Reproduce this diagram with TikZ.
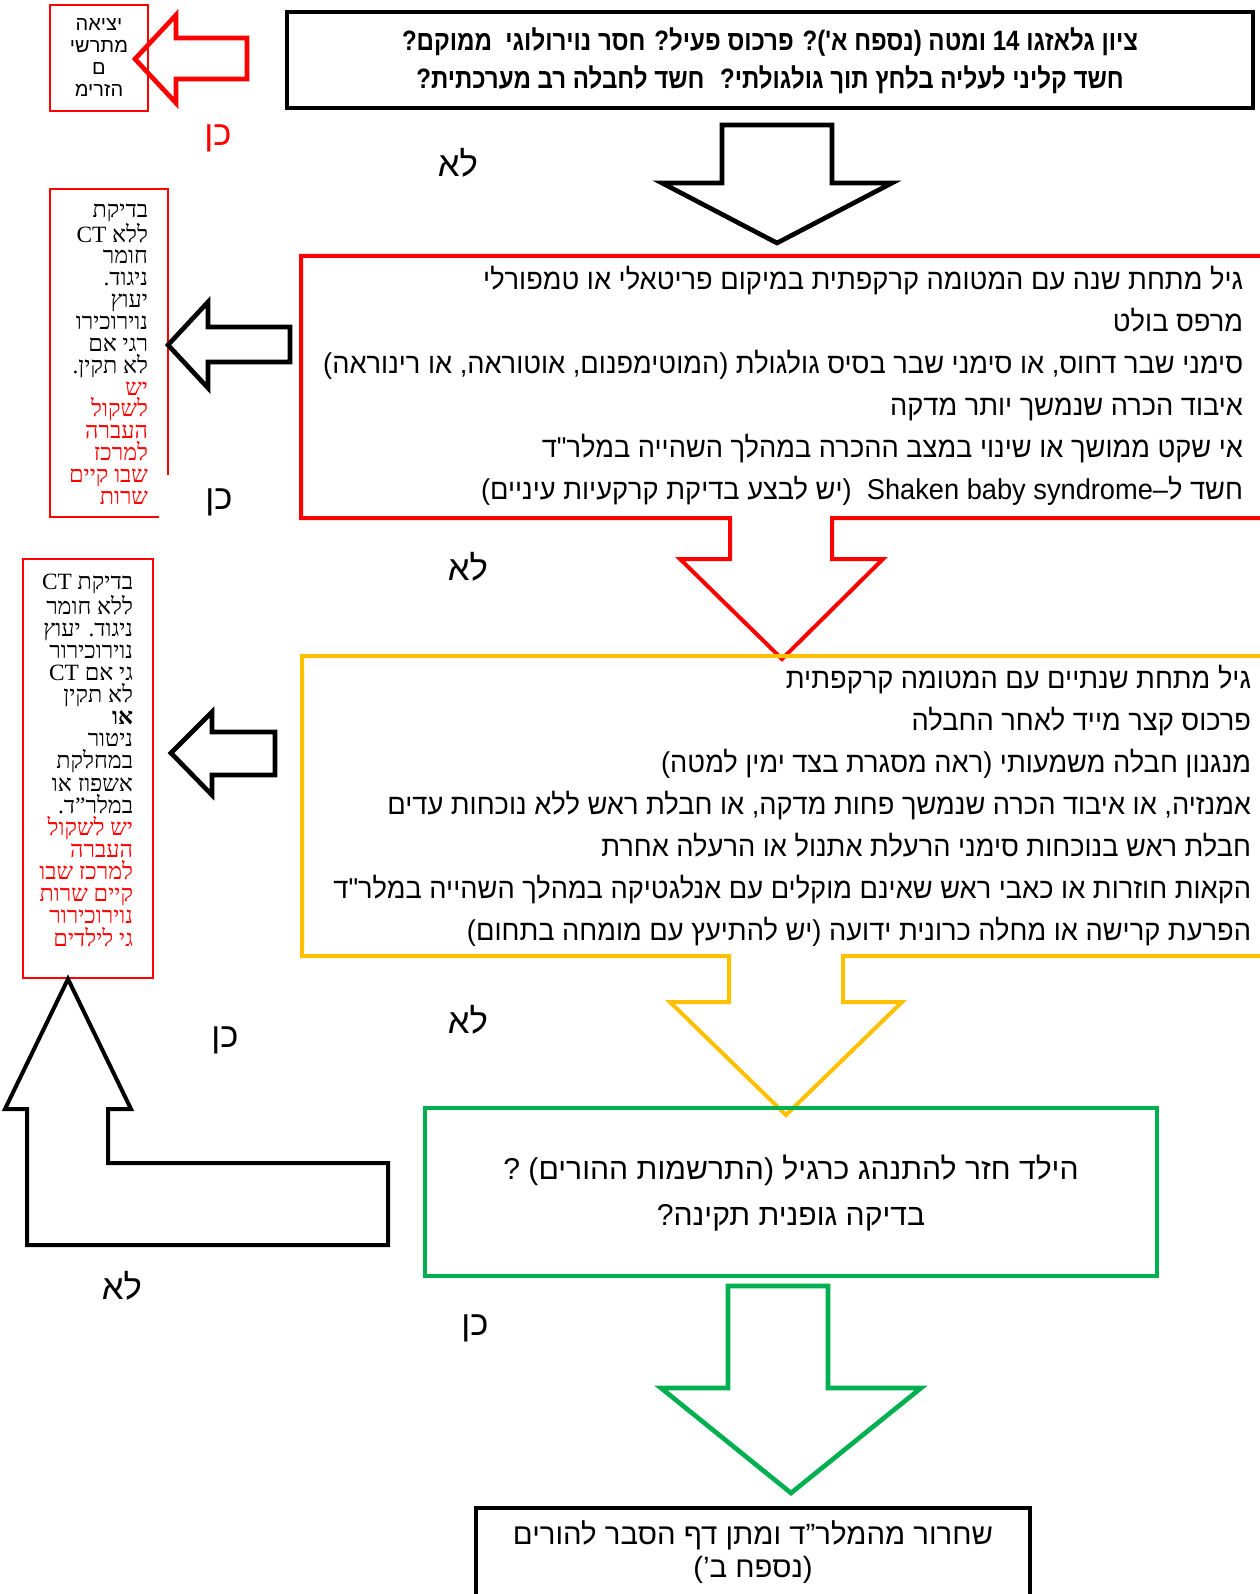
\documentclass[tikz,border=0pt]{standalone}
\usepackage{fontspec}
\TeXXeTstate=1
\newfontfamily\hebsans[Script=Hebrew]{Liberation Sans}
\newfontfamily\hebmain[Script=Hebrew,FakeStretch=0.95]{Liberation Sans}
\newfontfamily\hebnarrow[Script=Hebrew,FakeStretch=0.86]{Liberation Sans}
\newfontfamily\hebserif[Script=Hebrew]{Liberation Serif}
\newcommand\RL[1]{\beginR #1\endR}
\definecolor{myred}{RGB}{255,0,0}
\definecolor{myyellow}{RGB}{255,192,0}
\definecolor{mygreen}{RGB}{0,176,80}
\begin{document}
\begin{tikzpicture}[x=0.75pt,y=-0.75pt,
  every node/.style={inner sep=0pt,outer sep=0pt},
  maintext/.style={font=\hebmain\fontsize{21.5}{31.5}\selectfont,align=right,anchor=east},
  sidetext/.style={font=\hebserif\fontsize{17.5}{16.4}\selectfont,align=right,anchor=east},
  answer/.style={font=\hebsans\fontsize{26}{30}\selectfont},
  thinbox/.style={draw=myred,line width=1.5pt},
  blockarrow/.style={line width=3.5pt,line join=miter},
  flowbox/.style={line width=3pt}]
\useasboundingbox (0,0) rectangle (1259,1594);
\fill[white] (0,0) rectangle (1259,1594);

% ---------- top box ----------
\draw[line width=3.4pt] (287,12) rectangle (1253,108);
\node[font=\hebnarrow\bfseries\fontsize{21}{28.5}\selectfont,align=center] (q1) at (770,61)
  {\RL{ציון גלאזגו 14 ומטה (נספח א')? פרכוס פעיל? חסר נוירולוגי \ ממוקם?}\\
   \RL{חשד קליני לעליה בלחץ תוך גולגולתי? \ חשד לחבלה רב מערכתית?}};

% exit box
\draw[thinbox] (50,5) rectangle (148,111);
\node[font=\hebsans\fontsize{15}{16.5}\selectfont,align=center] (exit) at (99,58)
  {\RL{יציאה}\\ \RL{מתרשי}\\ \RL{ם}\\ \RL{הזרימ}};
\draw[myred,blockarrow] (135,59) -- (176,15) -- (176,38) -- (247,38) -- (247,79) -- (176,79) -- (176,103) -- cycle;
\node[answer,text=myred] (yes1) at (218,138) {\RL{כן}};

% black down arrow
\draw[blockarrow] (722,125) -- (832,125) -- (832,183) -- (892,183) -- (777,243) -- (662,183) -- (722,183) -- cycle;
\node[answer] (no1) at (458,163) {\RL{לא}};

% ---------- red box ----------
\draw[myred,flowbox] (1262,256) -- (301,256) -- (301,518) -- (730,518) -- (730,559) -- (680,559)
  -- (782,659) -- (883,559) -- (832,559) -- (832,518) -- (1262,518);
\node[maintext] (red) at (1243,386)
  {\RL{גיל מתחת שנה עם המטומה קרקפתית במיקום פריטאלי או טמפורלי}\\
   \RL{מרפס בולט}\\
   \RL{סימני שבר דחוס, או סימני שבר בסיס גולגולת (המוטימפנום, אוטוראה, או רינוראה)}\\
   \RL{איבוד הכרה שנמשך יותר מדקה}\\
   \RL{אי שקט ממושך או שינוי במצב ההכרה במהלך השהייה במלר"ד}\\
   \RL{חשד ל–\beginL Shaken baby syndrome\endL{} \ (יש לבצע בדיקת קרקעיות עיניים)}};

% left box 2
\draw[thinbox] (168,475) -- (168,189) -- (50,189) -- (50,517) -- (159,517);
\node[sidetext] (ct1) at (148,354)
  {\RL{בדיקת}\\ \RL{ללא CT}\\ \RL{חומר}\\ \RL{ניגוד.}\\ \RL{יעוץ}\\ \RL{נוירוכירו}\\ \RL{רגי אם}\\ \RL{לא תקין.}\\
   \textcolor{myred}{\RL{יש}}\\ \textcolor{myred}{\RL{לשקול}}\\ \textcolor{myred}{\RL{העברה}}\\
   \textcolor{myred}{\RL{למרכז}}\\ \textcolor{myred}{\RL{שבו קיים}}\\ \textcolor{myred}{\RL{שרות}}};
\draw[blockarrow] (168,345) -- (208,302) -- (208,327) -- (290,327) -- (290,362) -- (208,362) -- (208,388) -- cycle;
\node[answer] (yes2) at (219,502) {\RL{כן}};
\node[answer] (no2) at (468,567) {\RL{לא}};

% ---------- yellow box ----------
\draw[myyellow,flowbox] (1262,656) -- (302,656) -- (302,956) -- (729,956) -- (729,1002) -- (670,1002)
  -- (786,1115) -- (902,1002) -- (843,1002) -- (843,956) -- (1262,956);
\node[maintext] (yellow) at (1251,806)
  {\RL{גיל מתחת שנתיים עם המטומה קרקפתית}\\
   \RL{פרכוס קצר מייד לאחר החבלה}\\
   \RL{מנגנון חבלה משמעותי (ראה מסגרת בצד ימין למטה)}\\
   \RL{אמנזיה, או איבוד הכרה שנמשך פחות מדקה, או חבלת ראש ללא נוכחות עדים}\\
   \RL{חבלת ראש בנוכחות סימני הרעלת אתנול או הרעלה אחרת}\\
   \RL{הקאות חוזרות או כאבי ראש שאינם מוקלים עם אנלגטיקה במהלך השהייה במלר"ד}\\
   \RL{הפרעת קרישה או מחלה כרונית ידועה (יש להתיעץ עם מומחה בתחום)}};

% left box 3
\draw[thinbox] (23,559) rectangle (153,978);
\node[sidetext,font=\hebserif\fontsize{17.5}{16.6}\selectfont] (ct2) at (133,760)
  {\RL{בדיקת CT}\\ \RL{ללא חומר}\\ \RL{ניגוד. יעוץ}\\ \RL{נוירוכירור}\\ \RL{גי אם CT}\\ \RL{לא תקין}\\
   \RL{\bfseries או}\\ \RL{ניטור}\\ \RL{במחלקת}\\ \RL{אשפוז או}\\ \RL{במלר”ד.}\\
   \textcolor{myred}{\RL{יש לשקול}}\\ \textcolor{myred}{\RL{העברה}}\\ \textcolor{myred}{\RL{למרכז שבו}}\\
   \textcolor{myred}{\RL{קיים שרות}}\\ \textcolor{myred}{\RL{נוירוכירור}}\\ \textcolor{myred}{\RL{גי לילדים}}};
\draw[blockarrow] (171,753) -- (212,712) -- (212,732) -- (275,732) -- (275,775) -- (212,775) -- (212,795) -- cycle;
\node[answer] (yes3) at (225,1040) {\RL{כן}};
\node[answer] (no3) at (468,1020) {\RL{לא}};

% L-shaped arrow back up
\draw[blockarrow,line width=3pt] (68,979) -- (131,1109) -- (108,1109) -- (108,1163) -- (388,1163) -- (388,1245)
  -- (27,1245) -- (27,1109) -- (5,1109) -- cycle;
\node[answer] (no4) at (122,1286) {\RL{לא}};

% ---------- green box ----------
\draw[mygreen,flowbox] (425,1108) rectangle (1157,1276);
\node[font=\hebsans\fontsize{22.6}{34.5}\selectfont,align=center] (green) at (791,1193)
  {\RL{הילד חזר להתנהג כרגיל (התרשמות ההורים) ?}\\ \RL{בדיקה גופנית תקינה?}};
\node[answer] (yes4) at (475,1328) {\RL{כן}};
\draw[mygreen,blockarrow] (728,1286) -- (828,1286) -- (828,1388) -- (921,1388) -- (791,1493) -- (661,1388) -- (728,1388) -- cycle;

% ---------- discharge box ----------
\draw[flowbox,line width=3.2pt] (476,1600) -- (476,1508) -- (1030,1508) -- (1030,1600);
\node[font=\hebsans\fontsize{22}{24.75}\selectfont,align=center] (discharge) at (753,1552)
  {\RL{שחרור מהמלר”ד ומתן דף הסבר להורים}\\ \RL{(נספח ב’)}};
\end{tikzpicture}
\end{document}
